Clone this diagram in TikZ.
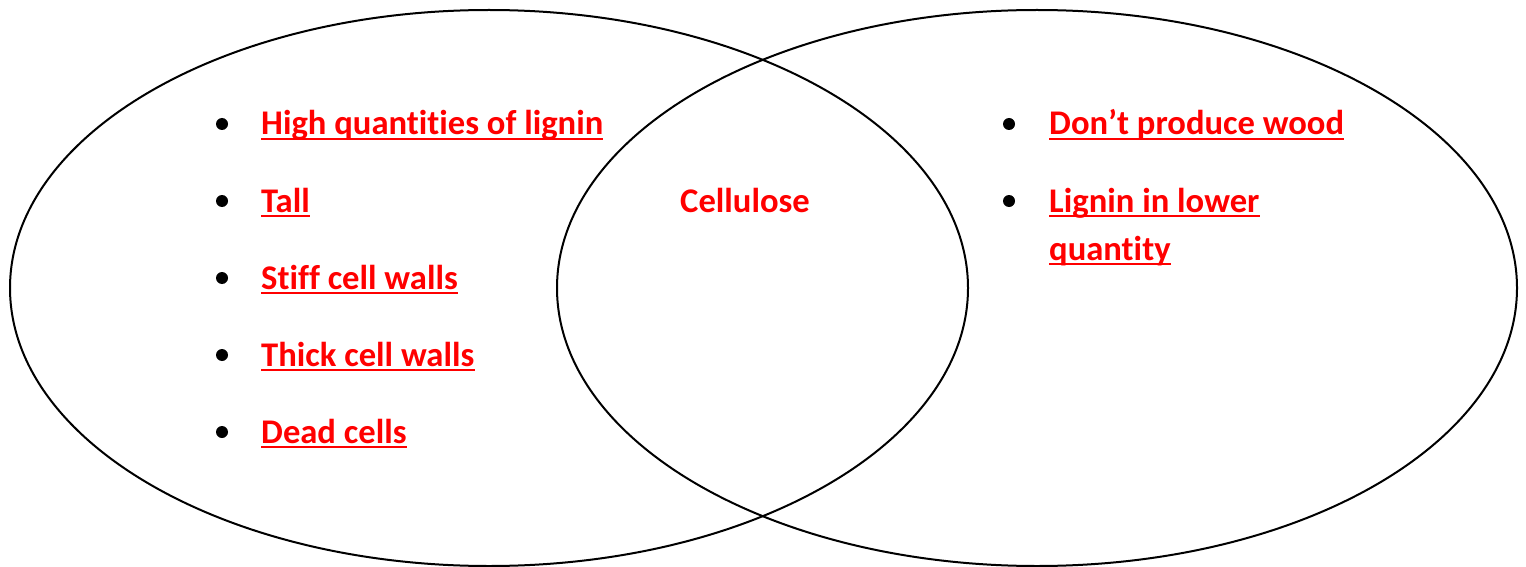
\documentclass[tikz,border=0pt]{standalone}
\usepackage{fontspec}
\setmainfont[Ligatures={NoCommon}]{Carlito}
\begin{document}
\begin{tikzpicture}[x=1pt,y=-1pt,
  ring/.style={draw=black,line width=2pt},
  txt/.style={text=red,font=\bfseries\fontsize{34.6}{40}\selectfont,inner sep=0pt,anchor=base west},
  ctxt/.style={text=red,font=\bfseries\fontsize{34.6}{40}\selectfont,inner sep=0pt,anchor=base},
  ul/.style={draw=red,line width=2.8pt},
  dot/.style={fill=black,circle,inner sep=0pt,minimum size=12pt}]
\useasboundingbox (0,0) rectangle (1526,567);
\draw[ring] (489,288) ellipse [x radius=479, y radius=278];
\draw[ring] (1037,288) ellipse [x radius=480, y radius=278];
% left bullets
\foreach \n/\y/\t in {1/135/High quantities of lignin,2/212/Tall,3/289/Stiff cell walls,4/366/Thick cell walls,5/443/Dead cells}{
  \node[dot] (b\n) at (222,\y-11) {};
  \node[txt] (t\n) at (261,\y) {\t};
  \draw[ul] ([yshift=-4pt]t\n.base west) -- ([yshift=-4pt]t\n.base east);
}
% center
\node[ctxt] (c) at (745,212) {Cellulose};
% right bullets
\node[dot] (r1) at (1009,124) {};
\node[txt] (s1) at (1049,135) {Don’t produce wood};
\draw[ul] ([yshift=-4pt]s1.base west) -- ([yshift=-4pt]s1.base east);
\node[dot] (r2) at (1009,201) {};
\node[txt] (s2) at (1049,212) {Lignin in lower};
\draw[ul] ([yshift=-4pt]s2.base west) -- ([yshift=-4pt]s2.base east);
\node[txt] (s3) at (1049,260) {quantity};
\draw[ul] ([yshift=-4pt]s3.base west) -- ([yshift=-4pt]s3.base east);
\end{tikzpicture}
\end{document}
